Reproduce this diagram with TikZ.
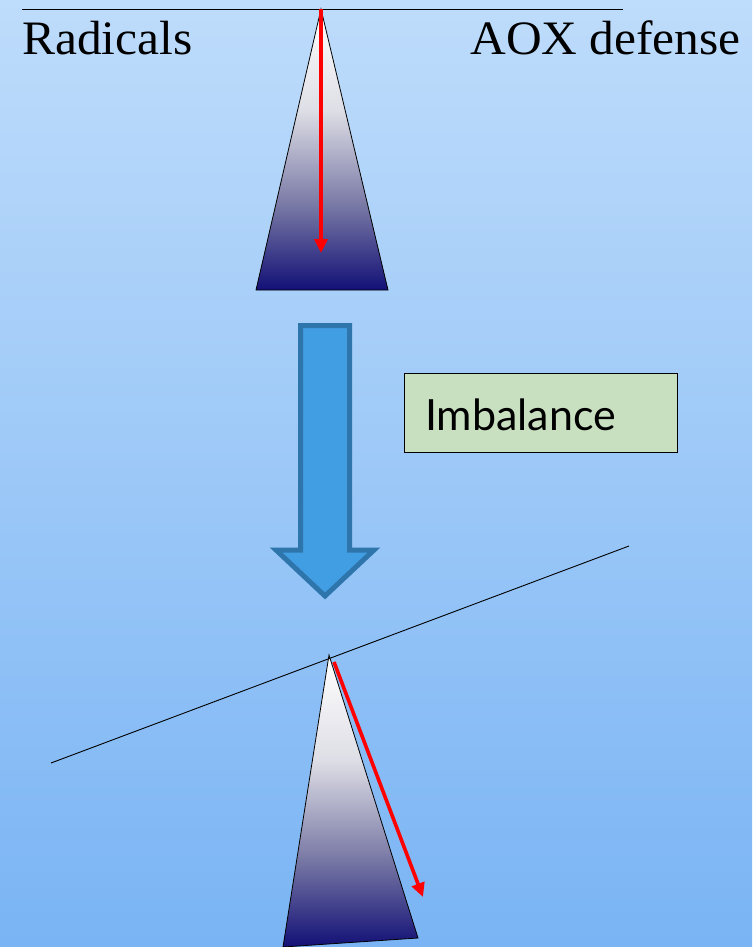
\documentclass[tikz,border=0pt]{standalone}
\usepackage{fontspec}
\setmainfont{Liberation Serif}
\newfontfamily\boxfont{Lato}
\usetikzlibrary{arrows.meta}
\definecolor{bgtop}{RGB}{190,220,251}
\definecolor{bgbot}{RGB}{122,180,244}
\definecolor{navy}{RGB}{18,16,118}
\definecolor{wedgemidA}{RGB}{222,222,230}
\definecolor{wedgemidB}{RGB}{120,120,165}
\definecolor{arrfill}{RGB}{65,158,226}
\definecolor{arrdraw}{RGB}{46,117,172}
\definecolor{boxgreen}{RGB}{200,224,192}
\pgfdeclareverticalshading{wedgeshade}{100bp}{
  color(0bp)=(navy);
  color(25bp)=(navy);
  color(40bp)=(wedgemidB);
  color(57bp)=(wedgemidA);
  color(75bp)=(white);
  color(100bp)=(white)}
\tikzset{
  beam/.style={black, line width=0.9pt},
  redarrow/.style={red, line width=3.6pt, -{Triangle[length=14pt,width=13pt]}},
  wedgeline/.style={black, line width=0.8pt},
  bigtext/.style={font=\fontsize{48}{52}\selectfont, inner sep=0pt},
}
\begin{document}
\begin{tikzpicture}[x=1pt,y=-1pt]
\fill[top color=bgtop, bottom color=bgbot] (0,0) rectangle (752,947);
\useasboundingbox (0,0) rectangle (752,947);

% top balance
\coordinate (tl) at (22,9);
\coordinate (tr) at (623,9);
\coordinate (tapex) at (321,9);
\coordinate (tbl) at (256,290);
\coordinate (tbr) at (388,290);
\coordinate (tend) at (321,253);
\shade[shading=wedgeshade] (tapex) -- (tbr) -- (tbl) -- cycle;
\draw[wedgeline] (tapex) -- (tbr) -- (tbl) -- cycle;
\draw[beam] (tl) -- (tr);
\draw[redarrow] (tapex) -- (tend);

\node[bigtext, anchor=base west] (rad) at (22,55) {\scalebox{1.03}[1]{Radicals}};
\node[bigtext, anchor=base east] (aox) at (741,55) {\scalebox{1.03}[1]{AOX defense}};

% block arrow
\draw[line width=5pt, fill=arrfill, draw=arrdraw, line join=miter]
  (300.5,325.5) -- (349.5,325.5) -- (349.5,550) -- (374,550) -- (325,596)
  -- (276,550) -- (300.5,550) -- cycle;

% Imbalance box
\node[draw=black, line width=1.3pt, fill=boxgreen, minimum width=273pt,
      minimum height=79pt, anchor=north west, inner sep=0pt] (box) at (404,373) {};
\node[font=\boxfont\fontsize{43}{46}\selectfont, anchor=base west, inner sep=0pt]
  (imb) at (425,430) {Imbalance};

% bottom tilted balance
\coordinate (bl) at (51,763);
\coordinate (br) at (629,546);
\coordinate (bapex) at (329,655);
\coordinate (bbl) at (283,947);
\coordinate (bbr) at (418,938);
\coordinate (bstart) at (334,662);
\coordinate (bend) at (423,897);
\shade[shading=wedgeshade] (bapex) -- (bbr) -- (bbl) -- cycle;
\draw[wedgeline] (bapex) -- (bbr) -- (bbl) -- cycle;
\draw[beam] (bl) -- (br);
\draw[redarrow] (bstart) -- (bend);
\end{tikzpicture}
\end{document}
